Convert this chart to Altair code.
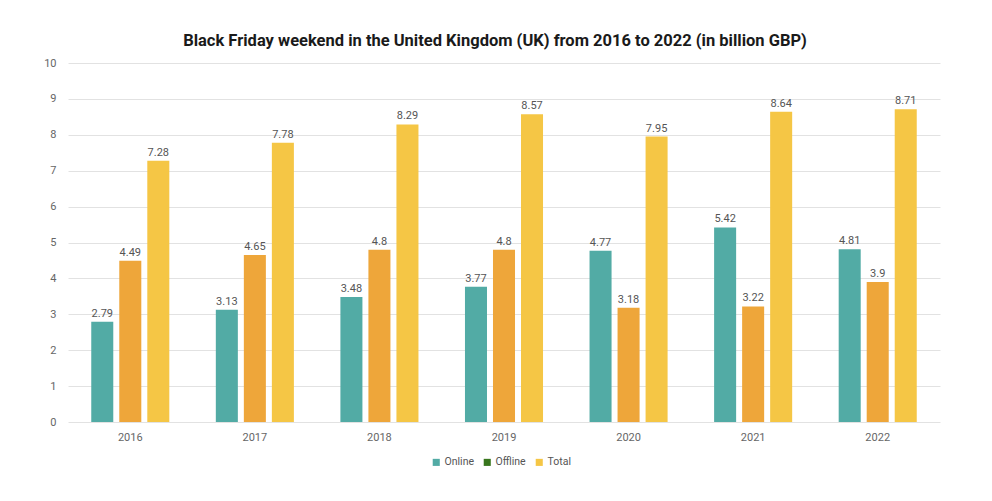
import altair as alt
import pandas as pd

years = ["2016", "2017", "2018", "2019", "2020", "2021", "2022"]
series = ["Online", "Offline", "Total"]
online = [2.79, 3.13, 3.48, 3.77, 4.77, 5.42, 4.81]
offline = [4.49, 4.65, 4.8, 4.8, 3.18, 3.22, 3.9]
total = [7.28, 7.78, 8.29, 8.57, 7.95, 8.64, 8.71]

bar_colors = ["#52aba5", "#eea63a", "#f5c645"]
legend_colors = ["#52aba5", "#38761d", "#f5c645"]

rows = []
for i, y in enumerate(years):
    for s, vals in zip(series, [online, offline, total]):
        rows.append({"year": y, "series": s, "value": vals[i]})
df = pd.DataFrame(rows)

FONT = "Roboto"

x = alt.X("year:N", title=None, sort=years,
          scale=alt.Scale(paddingInner=0, paddingOuter=0),
          axis=alt.Axis(labelAngle=0, ticks=False, domain=False, grid=False, labelPadding=9,
                        labelFontSize=11, labelColor="#666666", labelFont=FONT))
xoff = alt.XOffset("series:N", sort=series,
                   scale=alt.Scale(paddingInner=0.214, paddingOuter=0.83))
y = alt.Y("value:Q", title=None,
          scale=alt.Scale(domain=[0, 10]),
          axis=alt.Axis(values=list(range(0, 11)), ticks=False, domain=False,
                        labelPadding=12, labelFontSize=11, labelColor="#666666",
                        labelFont=FONT, gridColor="#e2e2e2"))

base = alt.Chart(df)

bars = base.mark_bar().encode(
    x=x, xOffset=xoff, y=y,
    color=alt.Color("series:N", sort=series,
                    scale=alt.Scale(domain=series, range=bar_colors), legend=None),
)

labels = base.mark_text(dy=-8, fontSize=11, color="#555555", font=FONT).encode(
    x=x, xOffset=xoff, y=y, text=alt.Text("value:Q"),
)

legend_layer = base.mark_square(opacity=0).encode(
    x=x, xOffset=xoff, y=y,
    color=alt.Color("series:N", sort=series,
                    scale=alt.Scale(domain=series, range=legend_colors),
                    legend=alt.Legend(title=None, orient="none", direction="horizontal",
                                      legendX=363, legendY=394,
                                      symbolType="square", symbolSize=50, symbolOpacity=1,
                                      symbolStrokeWidth=0, labelOffset=3,
                                      labelFontSize=10.5, labelColor="#555555", labelFont=FONT,
                                      columnPadding=8)),
)

chart = alt.layer(bars, labels, legend_layer).resolve_scale(color="independent").properties(
    width=872, height=359,
    autosize=alt.AutoSizeParams(type="none"),
    padding={"left": 68, "top": 63, "right": 52, "bottom": 79},
    background="white",
    title=alt.Title("Black Friday weekend in the United Kingdom (UK) from 2016 to 2022 (in billion GBP)",
                    font=FONT, fontSize=16.5, fontWeight="bold", color="#1a1a1a",
                    anchor="middle", offset=8, dx=-9),
).configure_view(stroke="transparent", strokeWidth=0)

chart.save("out.html", embed_options={"renderer": "svg", "actions": False})
